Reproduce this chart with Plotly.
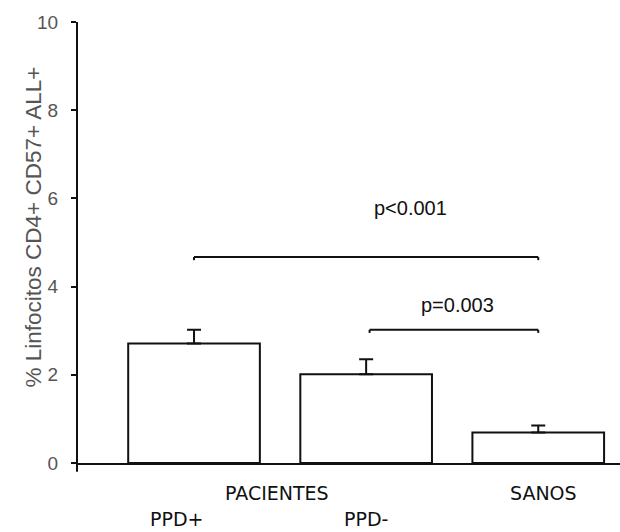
import plotly.graph_objects as go

# Group means (% of lymphocytes) and upper error (SEM)
groups = ["PPD+", "PPD-", "SANOS"]
means = [2.71, 2.01, 0.69]
sem = [0.31, 0.34, 0.16]
positions = [0, 1, 2]

y_ticks = [0, 2, 4, 6, 8, 10]

# Significance brackets: (x start, x end, height, label, label x, label y)
brackets = [
    (0, 2, 4.67, "p<0.001", 1.255, 5.78),
    (1.02, 2, 3.02, "p=0.003", 1.53, 3.58),
]

fig = go.Figure()
fig.add_trace(go.Bar(
    x=positions, y=means, width=0.765,
    marker=dict(color="white", line=dict(color="#111", width=2)),
    error_y=dict(type="data", array=sem, arrayminus=[0] * len(sem),
                 symmetric=False, color="#111", thickness=2, width=7),
    showlegend=False,
))

line = dict(color="#111", width=2)
shapes = []
annotations = []
tick = 0.07
for x0, x1, h, label, lx, ly in brackets:
    shapes.append(dict(type="line", x0=x0, x1=x1, y0=h, y1=h, xref="x", yref="y", line=line))
    shapes.append(dict(type="line", x0=x0, x1=x0, y0=h, y1=h - tick, xref="x", yref="y", line=line))
    shapes.append(dict(type="line", x0=x1, x1=x1, y0=h, y1=h - tick, xref="x", yref="y", line=line))
    annotations.append(dict(x=lx, y=ly, xref="x", yref="y", text=label, showarrow=False,
                            font=dict(family="Liberation Sans, Arial", size=20, color="#111")))

# y axis line (runs slightly below zero)
shapes.append(dict(type="line", x0=0, x1=0, y0=-0.02, y1=1, xref="paper", yref="paper", line=line))

cat_font = dict(family="DejaVu Sans, Verdana", size=19, color="#111")
for text, x, yshift in [("PACIENTES", 0.48, -30), ("SANOS", 2.03, -30),
                        ("PPD+", -0.1, -56), ("PPD-", 1.0, -56)]:
    annotations.append(dict(x=x, y=0, xref="x", yref="y", text=text, showarrow=False,
                            yanchor="middle", yshift=yshift, font=cat_font))

annotations.append(dict(x=-0.107, y=0.535, xref="paper", yref="paper",
                        text="% Linfocitos CD4+ CD57+ ALL+", textangle=-90, showarrow=False,
                        font=dict(family="Liberation Sans, Arial", size=22.5, color="#555")))

fig.update_layout(
    width=620, height=532,
    margin=dict(l=77, r=0, t=22, b=69),
    paper_bgcolor="white", plot_bgcolor="white",
    shapes=shapes, annotations=annotations,
    xaxis=dict(range=[-0.68, 2.475], showticklabels=False, ticks="", showgrid=False,
               zeroline=False, showline=True, linecolor="#111", linewidth=2),
    yaxis=dict(range=[0, 10], tickvals=y_ticks, ticks="outside", ticklen=5, tickwidth=2,
               tickcolor="#111", showgrid=False, zeroline=False, showline=False,
               ticklabelstandoff=9,
               tickfont=dict(family="Liberation Sans, Arial", size=19, color="#555")),
)

fig.write_html("out.html")
